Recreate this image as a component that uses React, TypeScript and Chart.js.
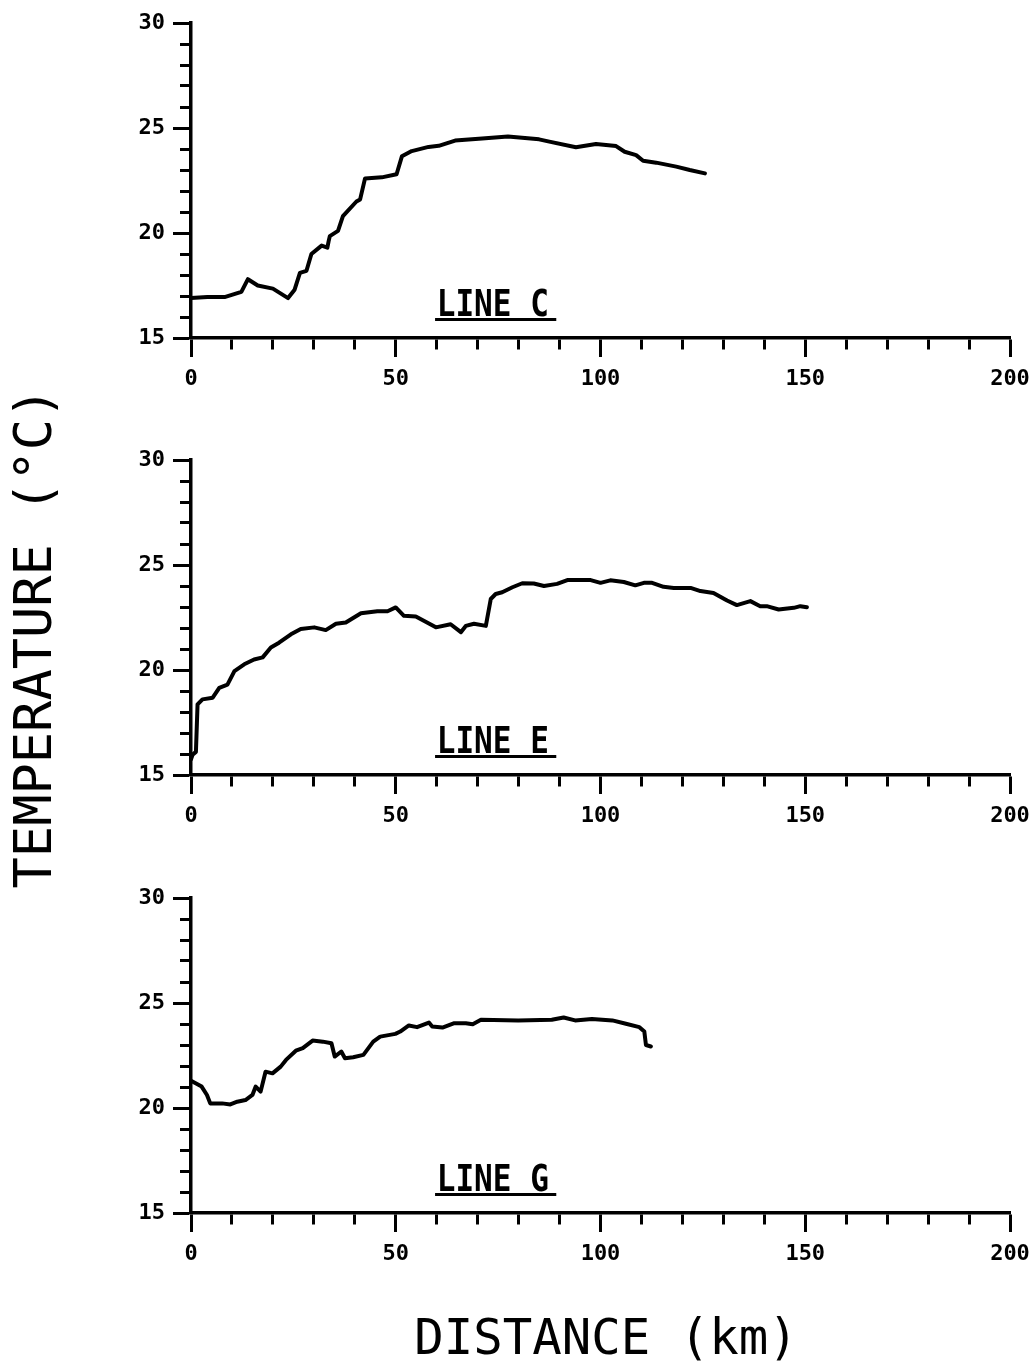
import React, { useEffect, useRef } from "react";
import { Chart, registerables } from "chart.js";

Chart.register(...registerables);

// ---------- data ----------
const xTickLabels = [0, 50, 100, 150, 200];
const yTickLabels = [15, 20, 25, 30];
const panelLabels = ["LINE C", "LINE E", "LINE G"];
const yTitle = "TEMPERATURE (°C)";
const xTitle = "DISTANCE (km)";

const lineCDist = [0, 4, 8.2, 12.3, 13.9, 16.3, 20, 23.7, 25.3, 26.6, 28.2, 29.4, 31.9, 33.3, 33.6, 33.9, 35.9, 37.1, 40.4, 41.3, 42.5, 46.6, 50.2, 51.5, 53.9, 58, 60.5, 64.5, 71.1, 77.4, 85, 87.5, 94, 98.9, 103.8, 105.9, 108.7, 110.4, 113.6, 118.5, 121.8, 125.5];
const lineCTemp = [16.9, 16.95, 16.95, 17.2, 17.8, 17.5, 17.35, 16.9, 17.3, 18.1, 18.2, 19.0, 19.4, 19.3, 19.6, 19.85, 20.1, 20.8, 21.5, 21.6, 22.6, 22.65, 22.8, 23.65, 23.9, 24.1, 24.15, 24.4, 24.5, 24.6, 24.46, 24.35, 24.08, 24.24, 24.14, 23.87, 23.71, 23.44, 23.35, 23.16, 23.0, 22.84];

const lineEDist = [0, 0.4, 1.2, 1.6, 2.8, 5.3, 6.9, 8.9, 10.6, 13, 15.4, 17.5, 19.5, 21.5, 24.4, 26.8, 30.1, 32.9, 35.4, 37.8, 41.5, 45.5, 48, 50, 52, 54.9, 57.3, 59.8, 63.4, 65.9, 67.1, 69.1, 72, 73.2, 74.4, 76, 78.5, 80.9, 83.7, 86.2, 89.4, 91.9, 97.6, 100, 102.4, 105.7, 108.5, 110.6, 112.6, 115.4, 117.9, 122, 124.4, 127.6, 130.9, 133.3, 136.6, 139, 140.6, 143.5, 147.2, 148.8, 150.4];
const lineETemp = [15.75, 15.97, 16.1, 18.36, 18.6, 18.68, 19.15, 19.3, 19.95, 20.27, 20.5, 20.6, 21.07, 21.3, 21.7, 21.95, 22.03, 21.9, 22.2, 22.26, 22.7, 22.8, 22.8, 22.98, 22.58, 22.55, 22.3, 22.03, 22.18, 21.8, 22.1, 22.2, 22.1, 23.38, 23.62, 23.7, 23.94, 24.13, 24.12, 24.0, 24.1, 24.28, 24.28, 24.15, 24.27, 24.19, 24.03, 24.15, 24.15, 23.96, 23.91, 23.91, 23.76, 23.67, 23.31, 23.09, 23.28, 23.04, 23.04, 22.88, 22.96, 23.04, 22.99];

const lineGDist = [0, 2.6, 3.9, 4.7, 7.6, 9.6, 11.3, 13.3, 15, 15.8, 17, 18.2, 19.9, 21.9, 23.2, 25.6, 27.3, 29.7, 32.2, 34.3, 35.1, 36.7, 37.6, 39.6, 42.1, 44.5, 46.2, 49.9, 51.1, 53.2, 55.2, 58.1, 58.9, 61.4, 64.3, 67.1, 68.8, 70.8, 79.9, 88.1, 91, 93.8, 97.9, 102.9, 106.2, 109.5, 110.7, 111.1, 112.3];
const lineGTemp = [21.3, 21.02, 20.62, 20.22, 20.22, 20.17, 20.3, 20.38, 20.62, 21.02, 20.78, 21.73, 21.65, 21.97, 22.29, 22.73, 22.85, 23.21, 23.16, 23.08, 22.45, 22.69, 22.37, 22.42, 22.53, 23.16, 23.4, 23.53, 23.64, 23.93, 23.85, 24.07, 23.88, 23.83, 24.04, 24.04, 23.99, 24.2, 24.17, 24.2, 24.31, 24.17, 24.24, 24.17, 24.01, 23.85, 23.64, 23.0, 22.93];

const panelDists = [lineCDist, lineEDist, lineGDist];
const panelTemps = [lineCTemp, lineETemp, lineGTemp];
const panelTops = [0, 437, 875];

const CANVAS_W = 1035;
const CANVAS_H = 420;

const labelPlugin = {
  id: "panelLabel",
  afterDraw(chart: any) {
    const opts = chart.options.plugins.panelLabel;
    if (!opts || !opts.text) return;
    const xs = chart.scales.x;
    const ys = chart.scales.y;
    const ctx = chart.ctx;
    const x0 = xs.getPixelForValue(60);
    const base = ys.getPixelForValue(16.05);
    ctx.save();
    ctx.fillStyle = "#000";
    ctx.translate(x0, base);
    ctx.scale(0.84, 1);
    ctx.font = 'bold 37px "DejaVu Sans Mono"';
    ctx.textBaseline = "alphabetic";
    ctx.textAlign = "left";
    ctx.fillText(opts.text, 0, 0);
    ctx.restore();
    ctx.save();
    ctx.strokeStyle = "#000";
    ctx.lineWidth = 3;
    const uy = ys.getPixelForValue(15.88);
    ctx.beginPath();
    ctx.moveTo(xs.getPixelForValue(59.6), uy);
    ctx.lineTo(xs.getPixelForValue(89.2), uy);
    ctx.stroke();
    ctx.restore();
  },
};

function Panel({ idx }: { idx: number }) {
  const ref = useRef<HTMLCanvasElement | null>(null);
  useEffect(() => {
    if (!ref.current) return;
    const dist = panelDists[idx];
    const temp = panelTemps[idx];
    const pts = dist.map((d, i) => ({ x: d, y: temp[i] }));
    const tickFont = { family: "DejaVu Sans Mono", size: 22, weight: "bold" as const };
    const chart = new Chart(ref.current, {
      type: "line",
      data: {
        datasets: [
          {
            data: pts,
            borderColor: "#000",
            borderWidth: 4,
            pointRadius: 0,
            tension: 0,
            fill: false,
            borderJoinStyle: "round",
            borderCapStyle: "round",
          },
        ],
      },
      options: {
        responsive: false,
        animation: false,
        devicePixelRatio: 1,
        layout: { padding: { left: 0, right: 25, top: 23, bottom: 22 } },
        plugins: {
          legend: { display: false },
          tooltip: { enabled: false },
          // @ts-ignore
          panelLabel: { text: panelLabels[idx] },
        },
        scales: {
          x: {
            type: "linear",
            min: 0,
            max: 200,
            afterFit: (s: any) => {
              s.height = 60;
              s.paddingRight = 0;
              s.paddingLeft = 0;
            },
            ticks: {
              stepSize: 10,
              autoSkip: false,
              maxRotation: 0,
              padding: 9,
              color: "#000",
              font: tickFont,
              callback: (v: any) => (xTickLabels.includes(Number(v)) ? String(v) : ""),
            },
            grid: {
              drawOnChartArea: false,
              drawTicks: true,
              tickLength: 19,
              tickWidth: 3,
              tickColor: "#000",
              tickBorderDash: (c: any) =>
                c.tick && xTickLabels.includes(c.tick.value) ? [] : [10, 100],
            },
            border: { color: "#000", width: 3.5 },
          },
          y: {
            type: "linear",
            min: 15,
            max: 30,
            afterFit: (s: any) => {
              s.width = 191;
            },
            ticks: {
              stepSize: 1,
              autoSkip: false,
              padding: 8,
              color: "#000",
              font: tickFont,
              callback: (v: any) => (yTickLabels.includes(Number(v)) ? String(v) : ""),
            },
            grid: {
              drawOnChartArea: false,
              drawTicks: true,
              tickLength: 18,
              tickWidth: 3,
              tickColor: "#000",
              tickBorderDash: (c: any) =>
                c.tick && yTickLabels.includes(c.tick.value) ? [] : [20, 7],
              tickBorderDashOffset: (c: any) =>
                c.tick && yTickLabels.includes(c.tick.value) ? 0 : 20,
            },
            border: { color: "#000", width: 3.5 },
          },
        },
      } as any,
      plugins: [labelPlugin],
    });
    return () => chart.destroy();
  }, [idx]);
  return (
    <canvas
      ref={ref}
      width={CANVAS_W}
      height={CANVAS_H}
      style={{ position: "absolute", left: 0, top: panelTops[idx], width: CANVAS_W, height: CANVAS_H }}
    />
  );
}

export default function App() {
  return (
    <div
      style={{
        position: "absolute",
        left: 0,
        top: 0,
        width: 1035,
        height: 1367,
        background: "#fff",
        overflow: "hidden",
      }}
    >
      <Panel idx={0} />
      <Panel idx={1} />
      <Panel idx={2} />
      <div
        style={{
          position: "absolute",
          left: 33 - 300,
          top: 638 - 26,
          width: 600,
          height: 52,
          lineHeight: "52px",
          fontSize: 52,
          fontFamily: '"DejaVu Sans Mono", monospace',
          color: "#000",
          textAlign: "center",
          whiteSpace: "nowrap",
          transform: "rotate(-90deg)",
        }}
      >
        {yTitle}
      </div>
      <div
        style={{
          position: "absolute",
          left: 606 - 300,
          top: 1313,
          width: 600,
          height: 49,
          lineHeight: "49px",
          fontSize: 49,
          fontFamily: '"DejaVu Sans Mono", monospace',
          color: "#000",
          textAlign: "center",
          whiteSpace: "nowrap",
        }}
      >
        {xTitle}
      </div>
    </div>
  );
}
